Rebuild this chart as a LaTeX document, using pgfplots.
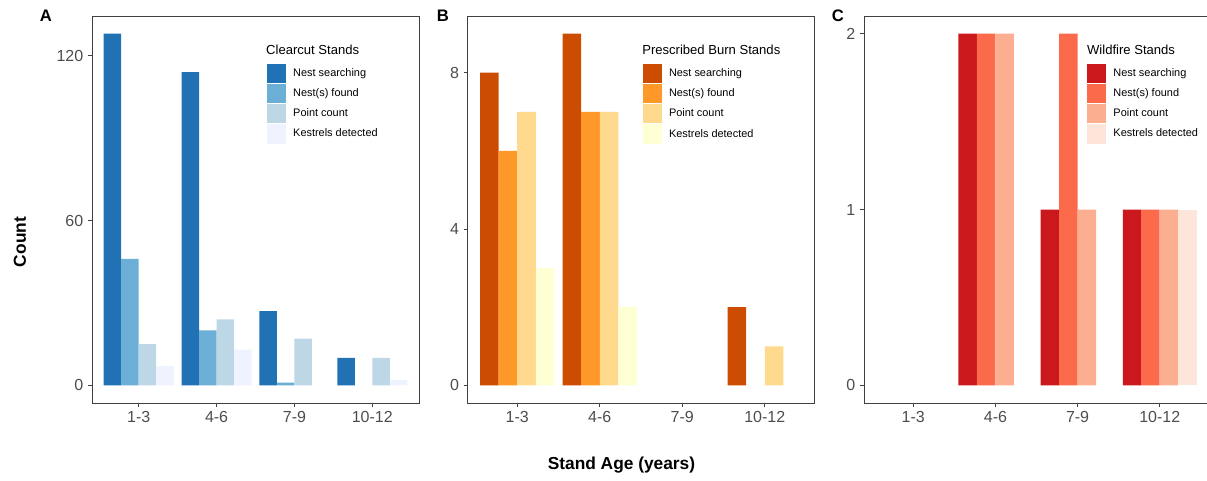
\documentclass[border=0pt]{standalone}
\usepackage{fontspec}
\setmainfont{Liberation Sans}
\usepackage{pgfplots}
\pgfplotsset{compat=1.18}

\definecolor{bA}{HTML}{2171B5}
\definecolor{bB}{HTML}{6BAED6}
\definecolor{bC}{HTML}{BDD7E7}
\definecolor{bD}{HTML}{EFF3FF}
\definecolor{oA}{HTML}{CC4C02}
\definecolor{oB}{HTML}{FE9929}
\definecolor{oC}{HTML}{FED98E}
\definecolor{oD}{HTML}{FFFFD4}
\definecolor{rA}{HTML}{CB181D}
\definecolor{rB}{HTML}{FB6A4A}
\definecolor{rC}{HTML}{FCAE91}
\definecolor{rD}{HTML}{FEE5D9}
\definecolor{tickgray}{HTML}{4D4D4D}

\pgfplotsset{
  panel/.style={
    scale only axis, height=290.25pt, xmin=0.4, xmax=4.6,
    xtick={1,2,3,4}, xticklabels={1-3,4-6,7-9,10-12},
    axis line style={draw=black!75, line width=0.6pt},
    tick align=outside, xtick pos=bottom, ytick pos=left,
    major tick length=3pt,
    tick style={draw=black!75, line width=0.6pt},
    tick label style={font=\fontsize{12}{14}\selectfont, text=tickgray},
    /pgf/number format/assume math mode=true,
    legend cell align=left,
    legend style={anchor=north west, draw=none, fill=none, inner sep=0pt,
      row sep=0pt, font=\fontsize{8.2}{9}\selectfont,
      nodes={inner sep=0pt},
      /tikz/every odd column/.append style={column sep=5.25pt}},
  },
  key/.style={draw=none, legend image code/.code={%
    \path[draw=none, fill=none, use as bounding box] (0pt,-7.6pt) rectangle (14.25pt,7.6pt);
    \path[fill=#1, draw=none] (0pt,-7.2pt) rectangle (14.25pt,7.2pt);}},
  bs/.style={ybar, bar width=0.225, draw=none, forget plot},
}

\begin{document}
\begin{tikzpicture}
\useasboundingbox (0,0) rectangle (905.25pt,360pt);

% Panel A
\begin{axis}[panel, at={(69pt,57.75pt)}, anchor=south west, width=245.25pt,
  ymin=-6.4, ymax=134.4, ytick={0,60,120},
  legend style={at={(0.535,0.879)}}]
\addplot[bs, bar shift=-0.3375, fill=bA] coordinates {(1,128) (2,114) (3,27) (4,10)};
\addplot[bs, bar shift=-0.1125, fill=bB] coordinates {(1,46) (2,20) (3,1)};
\addplot[bs, bar shift=0.1125, fill=bC] coordinates {(1,15) (2,24) (3,17) (4,10)};
\addplot[bs, bar shift=0.3375, fill=bD] coordinates {(1,7) (2,13) (4,2)};
\addlegendimage{key=bA}
\addlegendimage{key=bB}
\addlegendimage{key=bC}
\addlegendimage{key=bD}
\legend{Nest searching, Nest(s) found, Point count, Kestrels detected}
\node[anchor=west, inner sep=0pt, font=\fontsize{9.8}{11}\selectfont] at (rel axis cs:0.532,0.912) {Clearcut Stands};
\end{axis}

% Panel B
\begin{axis}[panel, at={(350.8pt,57.75pt)}, anchor=south west, width=259.9pt,
  ymin=-0.45, ymax=9.45, ytick={0,4,8},
  legend style={at={(0.505,0.879)}}]
\addplot[bs, bar shift=-0.3375, fill=oA] coordinates {(1,8) (2,9) (4,2)};
\addplot[bs, bar shift=-0.1125, fill=oB] coordinates {(1,6) (2,7)};
\addplot[bs, bar shift=0.1125, fill=oC] coordinates {(1,7) (2,7) (4,1)};
\addplot[bs, bar shift=0.3375, fill=oD] coordinates {(1,3) (2,2)};
\addlegendimage{key=oA}
\addlegendimage{key=oB}
\addlegendimage{key=oC}
\addlegendimage{key=oD}
\legend{Nest searching, Nest(s) found, Point count, Kestrels detected}
\node[anchor=west, inner sep=0pt, font=\fontsize{9.8}{11}\selectfont] at (rel axis cs:0.503,0.912) {Prescribed Burn Stands};
\end{axis}

% Panel C
\begin{axis}[panel, at={(648pt,57.75pt)}, anchor=south west, width=258.75pt,
  ymin=-0.1, ymax=2.1, ytick={0,1,2},
  legend style={at={(0.647,0.879)}}]
\addplot[bs, bar shift=-0.3375, fill=rA] coordinates {(2,2) (3,1) (4,1)};
\addplot[bs, bar shift=-0.1125, fill=rB] coordinates {(2,2) (3,2) (4,1)};
\addplot[bs, bar shift=0.1125, fill=rC] coordinates {(2,2) (3,1) (4,1)};
\addplot[bs, bar shift=0.3375, fill=rD] coordinates {(4,1)};
\addlegendimage{key=rA}
\addlegendimage{key=rB}
\addlegendimage{key=rC}
\addlegendimage{key=rD}
\legend{Nest searching, Nest(s) found, Point count, Kestrels detected}
\node[anchor=west, inner sep=0pt, font=\fontsize{9.8}{11}\selectfont] at (rel axis cs:0.646,0.912) {Wildfire Stands};
\end{axis}

\node[font=\bfseries\fontsize{12.5}{14}\selectfont] at (34.5pt,348pt) {A};
\node[font=\bfseries\fontsize{12.5}{14}\selectfont] at (332.25pt,348pt) {B};
\node[font=\bfseries\fontsize{12.5}{14}\selectfont] at (628.5pt,348pt) {C};
\node[rotate=90, font=\bfseries\fontsize{13}{15}\selectfont] at (15pt,178.5pt) {Count};
\node[font=\bfseries\fontsize{13}{15}\selectfont] at (466.1pt,11.25pt) {Stand Age (years)};
\end{tikzpicture}
\end{document}
